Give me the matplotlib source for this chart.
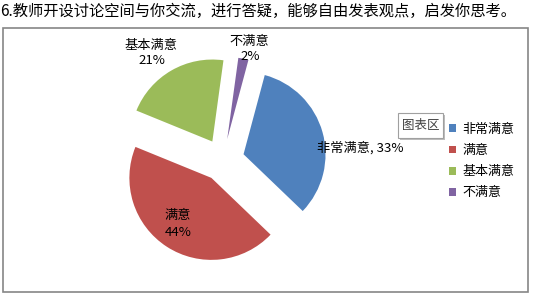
import matplotlib.pyplot as plt
from matplotlib.patches import Rectangle, FancyBboxPatch

plt.rcParams['font.family'] = ['Noto Sans CJK SC', 'DejaVu Sans']

# survey results (percent)
categories = ['非常满意', '满意', '基本满意', '不满意']
shares = [33, 44, 21, 2]
colors = ['#4F81BD', '#C0504D', '#9BBB59', '#8064A2']
title = '6.教师开设讨论空间与你交流，进行答疑，能够自由发表观点，启发你思考。'

W, H = 535, 298
fig = plt.figure(figsize=(W / 100, H / 100), dpi=100)


def fx(x):
    return x / W


def fy(y):
    return 1 - y / H


# chart area frame
fig.patches.append(Rectangle((fx(3), fy(292)), fx(528) - fx(3), fy(28) - fy(292),
                             transform=fig.transFigure, fill=False,
                             edgecolor='#868686', linewidth=1.2))

fig.text(fx(0), fy(11), title, fontsize=11, ha='left', va='center')

# pie axes: centre at (223, 160) px, radius 82 px
cx, cy, R = 223, 160, 82
x0, x1, y0, y1 = 100, 350, 40, 280
ax = fig.add_axes([fx(x0), fy(y1), fx(x1) - fx(x0), fy(y0) - fy(y1)])

wedges, _ = ax.pie(shares, colors=colors, startangle=75, counterclock=False,
                   explode=[0.26] * len(shares), radius=1,
                   wedgeprops=dict(linewidth=0))
ax.set_aspect('auto')
ax.set_xlim((x0 - cx) / R, (x1 - cx) / R)
ax.set_ylim((cy - y1) / R, (cy - y0) / R)
ax.axis('off')


def lab(x, y, s, **kw):
    fig.text(fx(x), fy(y), s, ha='center', va='center', fontsize=9.5, **kw)


lab(360, 148, f'{categories[0]}, {shares[0]}%')
lab(178, 215, categories[1])
lab(178, 232, f'{shares[1]}%')
lab(151, 45, categories[2])
lab(152, 61, f'{shares[2]}%')
lab(249, 42, categories[3])
lab(250, 57, f'{shares[3]}%')

leg = fig.legend(wedges, categories, loc='upper left',
                 bbox_to_anchor=(fx(449), fy(123)), frameon=False,
                 fontsize=9.4, handlelength=0.55, handleheight=0.55,
                 handletextpad=0.45, labelspacing=0.62, borderpad=0,
                 borderaxespad=0)

# hover tag over the chart area
shadow = FancyBboxPatch((fx(400), fy(140)), fx(45), fy(113) - fy(138),
                        boxstyle='square,pad=0', transform=fig.transFigure,
                        facecolor='#bdbdbd', edgecolor='none', zorder=5)
tag = FancyBboxPatch((fx(398), fy(138)), fx(45), fy(113) - fy(138),
                     boxstyle='square,pad=0', transform=fig.transFigure,
                     facecolor='white', edgecolor='#a0a0a0', linewidth=0.8, zorder=6)
fig.patches.extend([shadow, tag])
fig.text(fx(420.5), fy(125.5), '图表区', ha='center', va='center',
         fontsize=9, color='#404040', zorder=7)

fig.savefig('out.png', dpi=100)
